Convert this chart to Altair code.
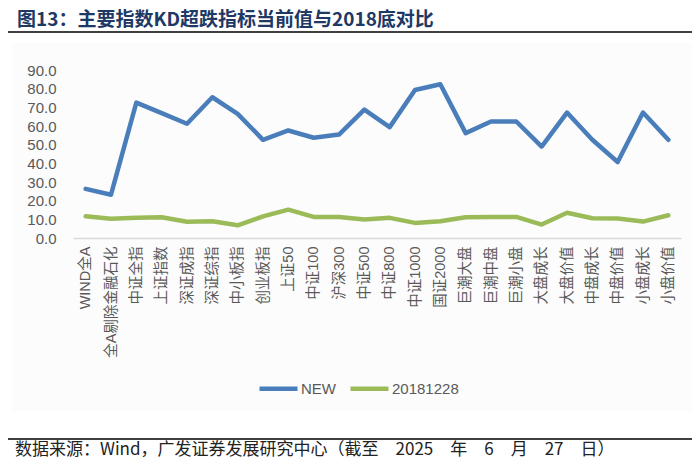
import altair as alt
import pandas as pd

categories = ["WIND全A", "全A剔除金融石化", "中证全指", "上证指数", "深证成指", "深证综指",
              "中小板指", "创业板指", "上证50", "中证100", "沪深300", "中证500", "中证800",
              "中证1000", "国证2000", "巨潮大盘", "巨潮中盘", "巨潮小盘", "大盘成长",
              "大盘价值", "中盘成长", "中盘价值", "小盘成长", "小盘价值"]
new_values = [26.3, 23.2, 72.5, 66.9, 61.2, 75.4, 66.5, 52.6, 57.6, 53.7, 55.4, 68.8,
              59.4, 79.3, 82.4, 56.2, 62.4, 62.4, 49.0, 67.2, 52.6, 40.7, 67.2, 52.6]
base_values = [11.6, 10.3, 10.8, 11.1, 8.7, 9.0, 6.8, 11.6, 15.2, 11.3, 11.3, 9.9,
               10.8, 8.1, 9.0, 11.1, 11.3, 11.3, 7.2, 13.5, 10.6, 10.4, 8.8, 12.2]
series_names = ["NEW", "20181228"]
series_colors = ["#4A7EBB", "#9BBB59"]
y_ticks = [0, 10, 20, 30, 40, 50, 60, 70, 80, 90]
title_text = "图13：主要指数KD超跌指标当前值与2018底对比"
source_text = "数据来源：Wind，广发证券发展研究中心（截至\u30002025\u3000年\u30006\u3000月\u300027\u3000日）"

rows = []
for name, vals in zip(series_names, [new_values, base_values]):
    for c, v in zip(categories, vals):
        rows.append({"cat": c, "value": v, "series": name})
df = pd.DataFrame(rows)

FONT = "Liberation Sans, Arial, Noto Sans CJK SC"
CJK = "Noto Sans CJK SC"

one = pd.DataFrame({"t": [title_text], "s": [source_text]})

bg = alt.Chart(one).mark_rect(color="#fcfcfc").encode(
    x=alt.value(-61), x2=alt.value(622), y=alt.value(-27), y2=alt.value(341))

lines = alt.Chart(df).mark_line(strokeWidth=4.5, strokeJoin="round", strokeCap="round").encode(
    x=alt.X("cat:N", sort=categories, title=None,
            axis=alt.Axis(labelAngle=-90, labelFont=FONT, labelFontSize=14.5,
                          labelColor="#595959", ticks=False, tickSize=0, labelPadding=8,
                          domainColor="#d9d9d9", domainWidth=1.5, grid=False, zindex=1)),
    y=alt.Y("value:Q", title=None,
            scale=alt.Scale(domain=[0, 90], nice=False, zero=True),
            axis=alt.Axis(values=y_ticks, format=".1f", labelFont=FONT, labelFontSize=15,
                          labelColor="#595959", ticks=False, tickSize=0, labelPadding=17,
                          domain=False, grid=False, zindex=1)),
    stroke=alt.Stroke("series:N", sort=series_names,
                      scale=alt.Scale(domain=series_names, range=series_colors),
                      legend=alt.Legend(orient="none", legendX=184, legendY=297,
                                        direction="horizontal", title=None,
                                        symbolType="stroke", symbolSize=1444,
                                        symbolStrokeWidth=4.5, labelFontSize=15,
                                        labelFont=FONT, labelColor="#595959",
                                        labelOffset=1, columnPadding=5)),
    detail="series:N",
)

title = alt.Chart(one).mark_text(align="left", baseline="middle", font=CJK, fontSize=19,
                                 fontWeight="bold", color="#203864").encode(
    text="t:N", x=alt.value(-56), y=alt.value(-50))

title_rule = alt.Chart(one).mark_rule(color="#404040", strokeWidth=2).encode(
    x=alt.value(-65), x2=alt.value(619), y=alt.value(-38))

foot_rule = alt.Chart(one).mark_rule(color="#404040", strokeWidth=2).encode(
    x=alt.value(-65), x2=alt.value(619), y=alt.value(369))

foot = alt.Chart(one).mark_text(align="left", baseline="middle", font=CJK, fontSize=17,
                                color="#222222").encode(
    text="s:N", x=alt.value(-58), y=alt.value(380))

chart = alt.layer(bg, lines, title, title_rule, foot_rule, foot).properties(
    width=608, height=168,
    autosize=alt.AutoSizeParams(type="none"),
    padding={"left": 65, "top": 62, "right": 11, "bottom": 223},
    background="white",
).configure_view(stroke=None)

chart.save("out.html", embed_options={"renderer": "svg", "actions": False})
